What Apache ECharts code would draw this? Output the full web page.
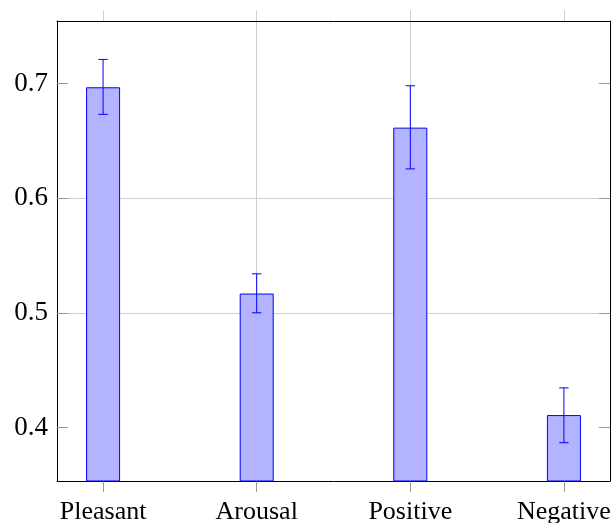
<!DOCTYPE html>
<html>
<head>
<meta charset="utf-8">
<script src="https://cdn.jsdelivr.net/npm/echarts@6/dist/echarts.min.js"></script>
<style>html,body{margin:0;padding:0;background:#fff}#c{width:611px;height:523px}</style>
</head>
<body>
<div id="c"></div>
<script>
const categories = ['Pleasant', 'Arousal', 'Positive', 'Negative'];
const means = [0.6967, 0.5168, 0.6615, 0.4108];
const errLow = [0.6731, 0.5000, 0.6255, 0.3867];
const errHigh = [0.7210, 0.5340, 0.6980, 0.4345];
const yTicks = [0.4, 0.5, 0.6, 0.7];
const xTicks = [0, 1, 2, 3];

const Y_MIN = 0.3533, Y_MAX = 0.7545;
const X_MIN = -0.3, X_MAX = 3.3;
const GRID_C = '#cfcfcf', TICK_C = '#999999';
const FONT = '"Liberation Serif", "Times New Roman", serif';

const barData = means.map((v, i) => [i, v]);
const errData = means.map((v, i) => [i, errLow[i], errHigh[i]]);

const chart = echarts.init(document.getElementById('c'), null, {renderer: 'canvas'});
chart.setOption({
  animation: false,
  grid: {left: 57, right: 1, top: 21, bottom: 42, containLabel: false, outerBoundsMode: 'none'},
  xAxis: [{
    type: 'value', position: 'bottom', min: X_MIN, max: X_MAX,
    axisLine: {show: true, onZero: false, lineStyle: {color: '#000', width: 1}},
    axisTick: {show: true, inside: false, length: 11, customValues: xTicks, lineStyle: {color: TICK_C}},
    axisLabel: {
      show: true, customValues: xTicks, margin: 18,
      fontFamily: FONT, fontSize: 26, color: '#000',
      formatter: v => categories[Math.round(v)] || ''
    },
    splitLine: {show: true, showMinLine: false, showMaxLine: false, lineStyle: {color: GRID_C, width: 1}}
  }, {
    type: 'value', position: 'top', min: X_MIN, max: X_MAX,
    axisLine: {show: true, onZero: false, lineStyle: {color: '#000', width: 1}},
    axisTick: {show: true, inside: false, length: 11, customValues: xTicks, lineStyle: {color: GRID_C}},
    axisLabel: {show: false},
    splitLine: {show: false}
  }],
  yAxis: [{
    type: 'value', position: 'left', min: Y_MIN, max: Y_MAX,
    axisLine: {show: true, onZero: false, lineStyle: {color: '#000', width: 1}},
    axisTick: {show: true, inside: true, length: 11, customValues: yTicks, lineStyle: {color: TICK_C}},
    axisLabel: {
      show: true, customValues: yTicks, margin: 9,
      fontFamily: FONT, fontSize: 27, color: '#000',
      formatter: v => v.toFixed(1)
    },
    splitLine: {show: true, showMinLine: false, showMaxLine: false, lineStyle: {color: GRID_C, width: 1}}
  }, {
    type: 'value', position: 'right', min: Y_MIN, max: Y_MAX,
    axisLine: {show: true, onZero: false, lineStyle: {color: '#000', width: 1}},
    axisTick: {show: true, inside: true, length: 11, customValues: yTicks, lineStyle: {color: TICK_C}},
    axisLabel: {show: false},
    splitLine: {show: false}
  }],
  series: [{
    type: 'bar', xAxisIndex: 0, yAxisIndex: 0,
    data: barData, barWidth: 34,
    itemStyle: {color: '#b3b3ff', borderColor: '#0000ff', borderWidth: 1},
    z: 3
  }, {
    type: 'custom', xAxisIndex: 0, yAxisIndex: 0,
    data: errData, z: 4,
    renderItem: (params, api) => {
      const x = api.value(0);
      const lo = api.coord([x, api.value(1)]);
      const hi = api.coord([x, api.value(2)]);
      const hw = 4.7;
      const style = {stroke: '#0000ff', lineWidth: 1};
      return {
        type: 'group',
        children: [
          {type: 'line', shape: {x1: lo[0], y1: lo[1], x2: hi[0], y2: hi[1]}, style},
          {type: 'line', shape: {x1: lo[0] - hw, y1: lo[1], x2: lo[0] + hw, y2: lo[1]}, style},
          {type: 'line', shape: {x1: hi[0] - hw, y1: hi[1], x2: hi[0] + hw, y2: hi[1]}, style}
        ]
      };
    }
  }]
});
</script>
</body>
</html>
